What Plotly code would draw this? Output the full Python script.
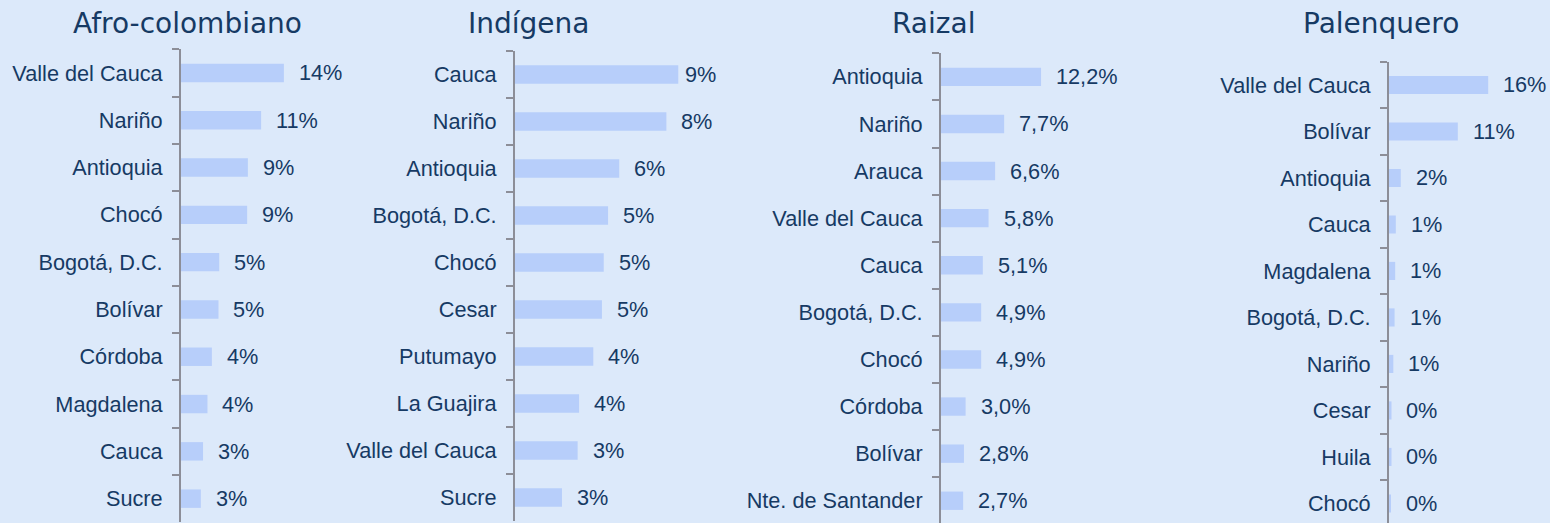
import plotly.graph_objects as go

# ---------------- data ----------------
afro_cats = ["Valle del Cauca", "Nariño", "Antioquia", "Chocó", "Bogotá, D.C.",
             "Bolívar", "Córdoba", "Magdalena", "Cauca", "Sucre"]
afro_vals = [14.0, 10.9, 9.1, 9.0, 5.2, 5.1, 4.2, 3.6, 3.0, 2.7]

ind_cats = ["Cauca", "Nariño", "Antioquia", "Bogotá, D.C.", "Chocó",
            "Cesar", "Putumayo", "La Guajira", "Valle del Cauca", "Sucre"]
ind_vals = [9.07, 8.41, 5.79, 5.17, 4.93, 4.83, 4.35, 3.56, 3.48, 2.61]

raizal_cats = ["Antioquia", "Nariño", "Arauca", "Valle del Cauca", "Cauca",
               "Bogotá, D.C.", "Chocó", "Córdoba", "Bolívar", "Nte. de Santander"]
raizal_vals = [12.2, 7.7, 6.6, 5.8, 5.1, 4.9, 4.9, 3.0, 2.8, 2.7]

pal_cats = ["Valle del Cauca", "Bolívar", "Antioquia", "Cauca", "Magdalena",
            "Bogotá, D.C.", "Nariño", "Cesar", "Huila", "Chocó"]
pal_vals = [16.0, 11.1, 1.9, 1.1, 1.0, 0.9, 0.7, 0.4, 0.4, 0.3]

titles = ["Afro-colombiano", "Indígena", "Raizal", "Palenquero"]
decimals = [0, 0, 1, 0]

# ---------------- style / layout ----------------
W, H = 1550, 523
BG = "#dce9fa"
BAR = "#b7cefa"
TXT = "#163a64"
AX = "#8c8e98"
LABEL_FONT = dict(family="Liberation Sans, Arial, sans-serif", size=21.7, color=TXT)
TITLE_FONT = dict(family="DejaVu Sans, sans-serif", size=28, color=TXT)

geom = [
    dict(x0=181, x1=360, scale=7.35, ytop=49.3, pitch=47.3, tx=187),
    dict(x0=515, x1=715, scale=18.0, ytop=51.0, pitch=47.0, tx=528),
    dict(x0=941, x1=1160, scale=8.2, ytop=53.3, pitch=47.1, tx=933),
    dict(x0=1389, x1=1545, scale=6.2, ytop=61.7, pitch=46.5, tx=1381),
]

series = [(afro_cats, afro_vals), (ind_cats, ind_vals),
          (raizal_cats, raizal_vals), (pal_cats, pal_vals)]

fig = go.Figure()
annotations = []
layout = dict(
    width=W, height=H,
    margin=dict(l=0, r=0, t=0, b=0),
    paper_bgcolor=BG, plot_bgcolor=BG,
    showlegend=False,
)

for i, ((cats, vals), g) in enumerate(zip(series, geom)):
    n = i + 1
    xa = "x" if n == 1 else f"x{n}"
    ya = "y" if n == 1 else f"y{n}"
    fig.add_trace(go.Bar(
        x=vals, y=cats, orientation="h", xaxis=xa, yaxis=ya,
        marker=dict(color=BAR, line=dict(width=0)), width=0.39,
        hoverinfo="skip",
    ))
    bottom = g["ytop"] + 10 * g["pitch"]
    if bottom > H:
        dom_lo = 0.0
        r_bot = -0.5 + (H - g["ytop"]) / g["pitch"]
    else:
        dom_lo = 1 - bottom / H
        r_bot = 9.5
    dom_hi = 1 - g["ytop"] / H
    xmax = (g["x1"] - g["x0"]) / g["scale"]

    layout["xaxis" if n == 1 else f"xaxis{n}"] = dict(
        domain=[g["x0"] / W, g["x1"] / W], range=[0, xmax],
        visible=False, anchor=ya, fixedrange=True,
    )
    layout["yaxis" if n == 1 else f"yaxis{n}"] = dict(
        domain=[dom_lo, dom_hi], anchor=xa,
        type="category", categoryorder="array", categoryarray=cats,
        range=[r_bot, -0.5],
        showline=True, linecolor=AX, linewidth=2,
        ticks="outside", tickson="boundaries", ticklen=7, tickwidth=1.5, tickcolor=AX,
        showgrid=False, zeroline=False,
        tickfont=LABEL_FONT, ticklabelstandoff=12,
        fixedrange=True,
    )
    for j, (c, v) in enumerate(zip(cats, vals)):
        txt = (f"{v:.{decimals[i]}f}%").replace(".", ",")
        shift = 13
        if i == 1 and j == 0:
            shift = 5
        annotations.append(dict(
            x=v, y=c, xref=xa, yref=ya, text=txt, showarrow=False,
            xanchor="left", yanchor="middle", xshift=shift, font=LABEL_FONT,
        ))
    annotations.append(dict(
        x=g["tx"] / W, y=1 - 23 / H, xref="paper", yref="paper",
        text=titles[i], showarrow=False, xanchor="center", yanchor="middle",
        font=TITLE_FONT,
    ))

layout["annotations"] = annotations
fig.update_layout(**layout)
fig.write_html(
    "out.html",
    config={"displayModeBar": False},
    post_script="document.body.style.margin='0';document.body.style.padding='0';",
)
